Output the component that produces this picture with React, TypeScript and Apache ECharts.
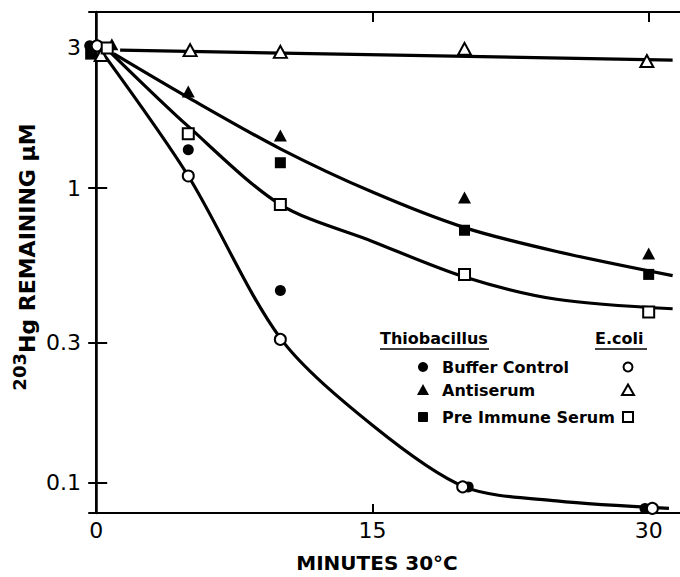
import { useEffect, useRef } from "react";
import * as echarts from "echarts";

// ---- axes ----
const xTicks = [0, 15, 30];
const yTicks = [0.1, 0.3, 1, 3];
const xRange = [-0.39, 31.7];
const yRange = [0.0791, 3.96];

// ---- measured points (minutes, µM) ----
const thioBuffer = [[-0.35, 3.04], [5, 1.35], [10, 0.45], [20.2, 0.097], [29.8, 0.082]];
const thioAntiserum = [[0.85, 3.08], [5, 2.13], [10, 1.51], [20, 0.93], [30, 0.6]];
const thioPreImmune = [[-0.3, 2.85], [10, 1.22], [20, 0.72], [30, 0.51]];
const coliBuffer = [[0.05, 3.04], [5, 1.1], [10, 0.307], [19.9, 0.097], [30.2, 0.082]];
const coliAntiserum = [[0.27, 2.83], [5.1, 2.94], [10, 2.9], [20, 2.97], [29.9, 2.7]];
const coliPreImmune = [[0.6, 2.99], [5, 1.53], [10, 0.88], [20, 0.51], [30, 0.38]];

// ---- fitted curves ----
const curveFlat = [[1.3, 2.94], [31.3, 2.72]];
const curveUpper = [[0.95, 2.86], [5, 2.03], [10, 1.36], [15, 0.97], [20, 0.735], [25, 0.61], [31.3, 0.505]];
const curveMiddle = [[0.8, 2.88], [5, 1.62], [10, 0.88], [15, 0.66], [20, 0.5], [25, 0.42], [31.3, 0.39]];
const curveLower = [[0.4, 2.85], [5, 1.1], [10, 0.31], [15, 0.157], [20, 0.097], [25, 0.087], [31.1, 0.082]];

const FONT = "DejaVu Sans";

export default function App() {
  const ref = useRef<HTMLDivElement>(null);
  useEffect(() => {
    if (!ref.current) return;
    const chart = echarts.init(ref.current, undefined, { renderer: "svg" });

    const lineS = (data: number[][], smooth: boolean | number) => ({
      type: "line",
      data,
      smooth,
      showSymbol: false,
      symbol: "none",
      lineStyle: { color: "#000", width: 3.2 },
      z: 2,
      silent: true,
    });
    const filled = (data: number[][], symbol: string, size: any) => ({
      type: "scatter",
      data,
      symbol,
      symbolSize: size,
      itemStyle: { color: "#000", borderWidth: 0, opacity: 1 },
      z: 3,
    });
    const open = (data: number[][], symbol: string, size: any) => ({
      type: "scatter",
      data,
      symbol,
      symbolSize: size,
      itemStyle: { color: "#fff", borderColor: "#000", borderWidth: 2, opacity: 1 },
      z: 4,
    });

    const txt = { color: "#000", fontFamily: FONT };
    const leg = { fontSize: 16, fontFamily: FONT, fontWeight: "bold", fill: "#000", align: "left", verticalAlign: "middle" };

    chart.setOption({
      animation: false,
      backgroundColor: "#fff",
      grid: { left: 89, top: 12, width: 592, height: 501 },
      xAxis: [
        {
          type: "value",
          position: "bottom",
          min: xRange[0],
          max: xRange[1],
          axisLine: { show: true, lineStyle: { color: "#000", width: 2 } },
          axisTick: { show: true, inside: true, length: 9, lineStyle: { color: "#000", width: 2 }, customValues: xTicks },
          axisLabel: { ...txt, fontSize: 22, margin: 6, customValues: xTicks },
          splitLine: { show: false },
        },
        {
          type: "value",
          position: "top",
          min: xRange[0],
          max: xRange[1],
          axisLine: { show: true, lineStyle: { color: "#000", width: 2 } },
          axisTick: { show: true, inside: true, length: 10, lineStyle: { color: "#000", width: 2 }, customValues: xTicks },
          axisLabel: { show: false },
          splitLine: { show: false },
        },
      ],
      yAxis: [
        {
          type: "log",
          logBase: 10,
          position: "left",
          min: yRange[0],
          max: yRange[1],
          axisLine: { show: true, lineStyle: { color: "#000", width: 2.5 } },
          axisTick: { show: true, inside: true, length: 11, lineStyle: { color: "#000", width: 2 }, customValues: yTicks },
          minorTick: { show: false },
          axisLabel: { ...txt, fontSize: 22, margin: 8, customValues: yTicks, formatter: (v: number) => String(v) },
          splitLine: { show: false },
        },
        {
          type: "log",
          logBase: 10,
          position: "right",
          min: yRange[0],
          max: yRange[1],
          axisLine: { show: true, lineStyle: { color: "#000", width: 2 } },
          axisTick: { show: true, inside: true, length: 8, lineStyle: { color: "#000", width: 2 }, customValues: yTicks },
          axisLabel: { show: false },
          splitLine: { show: false },
        },
      ],
      series: [
        lineS(curveFlat, false),
        lineS(curveUpper, 0.3),
        lineS(curveMiddle, 0.3),
        lineS(curveLower, 0.3),
        filled(thioBuffer, "circle", 11),
        filled(thioAntiserum, "triangle", [13, 12]),
        filled(thioPreImmune, "rect", 11),
        open(coliBuffer, "circle", 11),
        open(coliAntiserum, "triangle", [13, 12]),
        open(coliPreImmune, "rect", 11),
      ],
      graphic: [
        {
          type: "text",
          x: 27,
          y: 257,
          rotation: Math.PI / 2,
          style: {
            text: "{s|203}{m|Hg REMAINING µM}",
            align: "center",
            verticalAlign: "middle",
            fill: "#000",
            rich: {
              s: { fontSize: 18, fontFamily: FONT, fontWeight: "bold", lineHeight: 18, verticalAlign: "top", fill: "#000" },
              m: { fontSize: 22, fontFamily: FONT, fontWeight: "bold", lineHeight: 34, fill: "#000" },
            },
          },
        },
        {
          type: "text",
          x: 377,
          y: 563,
          style: { text: "MINUTES 30°C", fontSize: 20, fontFamily: FONT, fontWeight: "bold", fill: "#000", align: "center", verticalAlign: "middle" },
        },
        // legend headers
        { type: "text", x: 380, y: 338, style: { ...leg, text: "Thiobacillus" } },
        { type: "line", shape: { x1: 380, y1: 349, x2: 489, y2: 349 }, style: { stroke: "#000", lineWidth: 1.5 } },
        { type: "text", x: 595, y: 338, style: { ...leg, text: "E.coli" } },
        { type: "line", shape: { x1: 595, y1: 349, x2: 647, y2: 349 }, style: { stroke: "#000", lineWidth: 1.5 } },
        // legend rows
        { type: "circle", shape: { cx: 423, cy: 367, r: 5 }, style: { fill: "#000" } },
        { type: "text", x: 442, y: 367, style: { ...leg, text: "Buffer Control" } },
        { type: "circle", shape: { cx: 628, cy: 367, r: 4.5 }, style: { fill: "#fff", stroke: "#000", lineWidth: 2 } },
        { type: "polygon", shape: { points: [[423, 384], [429, 395], [417, 395]] }, style: { fill: "#000" } },
        { type: "text", x: 442, y: 390, style: { ...leg, text: "Antiserum" } },
        { type: "polygon", shape: { points: [[628, 384.5], [634, 395], [622, 395]] }, style: { fill: "#fff", stroke: "#000", lineWidth: 2 } },
        { type: "rect", shape: { x: 418, y: 412, width: 10, height: 10, r: 1 }, style: { fill: "#000" } },
        { type: "text", x: 442, y: 417, style: { ...leg, text: "Pre Immune Serum" } },
        { type: "rect", shape: { x: 623, y: 412, width: 10, height: 10 }, style: { fill: "#fff", stroke: "#000", lineWidth: 2 } },
      ],
    });
    return () => chart.dispose();
  }, []);
  return <div ref={ref} style={{ position: "absolute", left: 0, top: 0, width: 680, height: 577 }} />;
}
